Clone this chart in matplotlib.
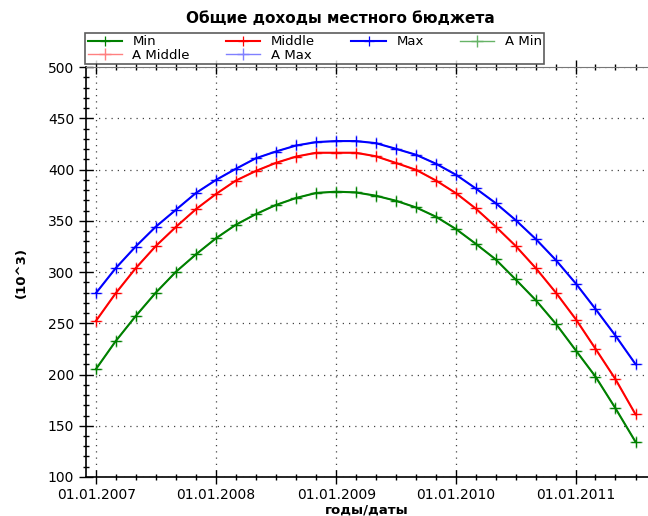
import numpy as np
import pandas as pd
import matplotlib
matplotlib.use('Agg')
import matplotlib.pyplot as plt
import matplotlib.dates as mdates

# Данные: точки каждые два месяца с 01.01.2007 по 01.07.2011
dates = pd.date_range('2007-01-01', periods=28, freq='2MS')

v_max = [279.7, 303.6, 324.8, 344.1, 360.8, 377.2, 389.9, 400.7, 411.0, 417.6,
         423.5, 426.8, 427.8, 427.8, 425.8, 420.3, 414.4, 405.6, 394.8, 381.7,
         367.3, 350.7, 332.0, 311.5, 288.5, 264.0, 237.9, 210.1]
v_middle = [252.6, 279.1, 303.6, 325.2, 344.1, 361.4, 376.2, 389.2, 398.6, 406.5,
            412.7, 416.4, 416.4, 416.4, 413.0, 406.5, 399.7, 389.2, 376.8, 362.1,
            344.4, 325.5, 303.6, 279.7, 253.6, 225.2, 195.4, 161.1]
v_min = [205.6, 232.4, 256.9, 279.7, 300.3, 317.3, 333.0, 346.1, 356.5, 365.4,
         372.3, 377.2, 378.4, 377.7, 374.5, 369.6, 363.0, 353.9, 341.8, 327.7,
         312.4, 292.8, 272.3, 249.3, 223.2, 198.0, 167.0, 134.3]

title = 'Общие доходы местного бюджета'

plt.rcParams['font.family'] = ['DejaVu Sans']

fig = plt.figure(figsize=(6.48, 5.16), dpi=100)
ax = fig.add_axes([0.1327, 0.0756, 0.8673, 0.7944])

# аппроксимирующие ряды (светлые) и основные ряды
a_min, = ax.plot(dates, v_min, color='#66b366', lw=1.0, marker='+', ms=8, mew=1.0)
a_mid, = ax.plot(dates, v_middle, color='#ff8080', lw=1.0, marker='+', ms=8, mew=1.0)
a_max, = ax.plot(dates, v_max, color='#8080ff', lw=1.0, marker='+', ms=8, mew=1.0)
l_min, = ax.plot(dates, v_min, color='#008000', lw=1.5, marker='+', ms=7, mew=0.9)
l_mid, = ax.plot(dates, v_middle, color='#ff0000', lw=1.5, marker='+', ms=7, mew=0.9)
l_max, = ax.plot(dates, v_max, color='#0000ff', lw=1.5, marker='+', ms=7, mew=0.9)

ax.set_ylim(100, 500)
ax.set_xlim(pd.Timestamp('2006-12-01'), pd.Timestamp('2011-08-08'))
ax.set_yticks(np.arange(100, 501, 50))
ax.yaxis.set_minor_locator(matplotlib.ticker.MultipleLocator(10))
ax.xaxis.set_major_locator(mdates.YearLocator())
ax.xaxis.set_minor_locator(mdates.MonthLocator(bymonth=[1, 3, 5, 7, 9, 11]))
ax.xaxis.set_major_formatter(mdates.DateFormatter('%d.%m.%Y'))

ax.grid(True, which='major', linestyle=(0, (1, 4)), color='#444444', linewidth=0.9)
ax.tick_params(which='major', direction='inout', length=10, width=1, labelsize=10,
               top=True, right=False)
ax.tick_params(which='minor', direction='inout', length=5, width=1, top=True, right=False)
ax.tick_params(axis='x', which='major', pad=3)

ax.spines['right'].set_visible(False)
ax.spines['top'].set_color('#777777')
ax.spines['left'].set_linewidth(1.2)
ax.spines['bottom'].set_linewidth(1.2)

ax.set_ylabel('(10^3)', fontweight='bold', fontsize=9.5, labelpad=14)
ax.set_xlabel('годы/даты', fontweight='bold', fontsize=9.5, labelpad=1)
fig.text(0.525, 0.965, title, ha='center', va='center', fontweight='bold', fontsize=11)

handles = [l_min, a_mid, l_mid, a_max, l_max, a_min]
labels = ['Min', 'A Middle', 'Middle', 'A Max', 'Max', 'A Min']
leg = fig.legend(handles, labels, ncol=4, loc='upper left',
                 bbox_to_anchor=(0.131, 0.937), frameon=True, fancybox=False,
                 fontsize=9.5, handlelength=2.6, columnspacing=2.75,
                 labelspacing=0.05, borderpad=0.2, handletextpad=0.8,
                 borderaxespad=0)
leg.get_frame().set_edgecolor('#333333')
leg.get_frame().set_linewidth(1.2)

fig.savefig('out.png', dpi=100)
